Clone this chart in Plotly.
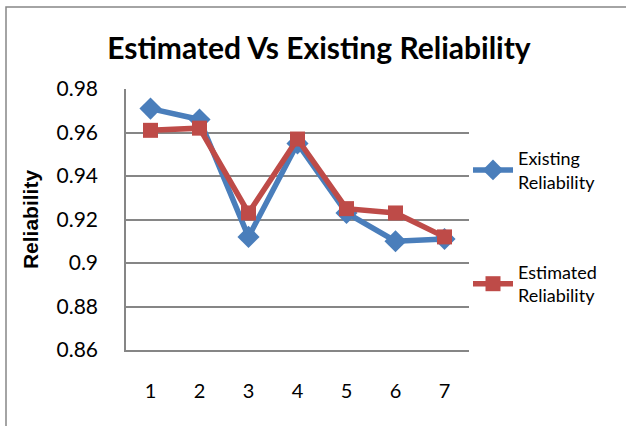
import plotly.graph_objects as go

categories = [1, 2, 3, 4, 5, 6, 7]
existing = [0.971, 0.966, 0.912, 0.955, 0.923, 0.910, 0.911]
estimated = [0.961, 0.962, 0.923, 0.957, 0.925, 0.923, 0.912]
y_ticks = [0.86, 0.88, 0.90, 0.92, 0.94, 0.96, 0.98]
y_tick_labels = ["0.86", "0.88", "0.9", "0.92", "0.94", "0.96", "0.98"]

FONT = "Lato"
BLUE = "#4A7EBB"
RED = "#BE4B48"

fig = go.Figure()
fig.add_trace(go.Scatter(
    x=categories, y=existing, mode="lines+markers",
    name="Existing<br>Reliability", legendgroup="a",
    line=dict(color=BLUE, width=5.5),
    marker=dict(symbol="diamond", size=17, color=BLUE),
))
fig.add_trace(go.Scatter(
    x=categories, y=estimated, mode="lines+markers",
    name="Estimated<br>Reliability", legendgroup="b",
    line=dict(color=RED, width=5.5),
    marker=dict(symbol="square", size=15, color=RED),
))

L, R, T, B = 126, 157, 89, 76
W, H = 626, 426
pw, ph = W - L - R, H - T - B

fig.update_layout(
    width=W, height=H,
    margin=dict(l=L, r=R, t=T, b=B, autoexpand=False),
    paper_bgcolor="white", plot_bgcolor="white",
    font=dict(family=FONT, color="black"),
    title=dict(text="<b>Estimated Vs Existing Reliability</b>",
               x=319 / W, xanchor="center", y=1 - 48 / H, yanchor="middle",
               font=dict(size=30, family=FONT, color="black")),
    xaxis=dict(range=[0.5, 7.5], tickvals=categories,
               ticktext=[str(c) for c in categories],
               showgrid=False, showline=True, linecolor="#868686", linewidth=1.5,
               ticks="", tickfont=dict(size=20), ticklabelstandoff=22,
               zeroline=False, automargin=False),
    yaxis=dict(range=[0.86, 0.98], tickvals=y_ticks, ticktext=y_tick_labels,
               showgrid=True, gridcolor="#868686", gridwidth=1.5,
               showline=True, linecolor="#868686", linewidth=1.5,
               ticks="", tickfont=dict(size=21), ticklabelstandoff=22,
               zeroline=False, automargin=False,
               title=dict(text="<b>Reliability</b>",
                          font=dict(size=21, family="Liberation Sans"), standoff=12)),
    legend=dict(x=(468 - L) / pw, y=(H - B - 140) / ph, xanchor="left", yanchor="top",
                font=dict(size=18, family=FONT), tracegroupgap=64,
                traceorder="grouped", bgcolor="rgba(0,0,0,0)", itemwidth=40),
    shapes=[dict(type="rect", xref="paper", yref="paper",
                 x0=(6 - L) / pw, x1=(640 - L) / pw,
                 y0=(H - B - 440) / ph, y1=(H - B - 7) / ph,
                 line=dict(color="#868686", width=1.5), layer="below")],
)

fig.write_html("out.html",
               config={"displayModeBar": False},
               post_script="document.body.style.margin='0';document.body.style.overflow='hidden';")
